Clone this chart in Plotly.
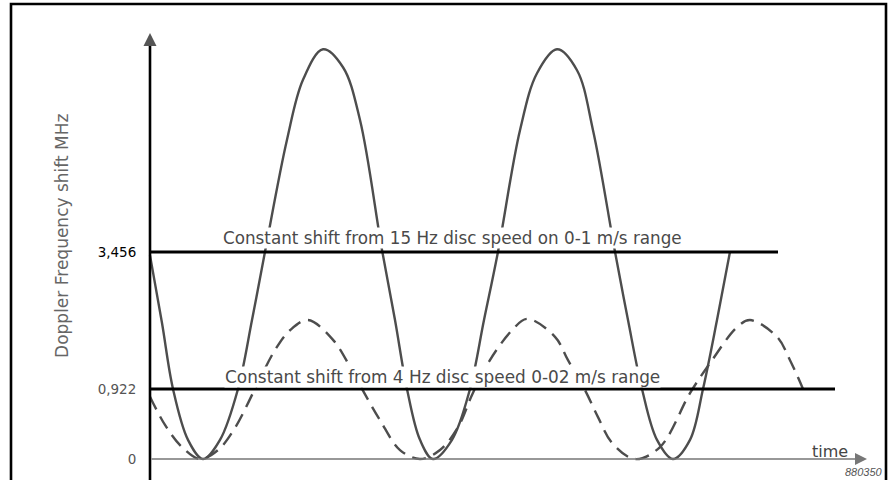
import plotly.graph_objects as go

# ---- data (schematic units) ----
solid_t = [0, 1.2, 2.3, 3.8, 5.3, 7.0, 8.8, 10.2, 11.5, 13.7, 15.3, 17.3, 19.3, 21.0, 23.2,
           24.5, 25.7, 27.0, 28.3, 30.2, 32.0, 33.4, 34.8, 37.0, 38.7, 40.7, 42.7, 44.3, 46.5,
           47.8, 49.2, 50.7, 52.3, 54.0, 55.3, 56.7, 58.0]
solid_f = [3.40, 2.27, 1.17, 0.32, 0, 0.32, 1.17, 2.32, 3.46, 5.33, 6.33, 6.84, 6.54, 5.66, 3.49,
           2.32, 1.17, 0.32, 0, 0.32, 1.17, 2.32, 3.46, 5.49, 6.44, 6.84, 6.49, 5.49, 3.46,
           2.32, 1.17, 0.32, 0, 0.32, 1.17, 2.32, 3.46]

dash_t = [0, 1.5, 3.2, 5.0, 6.8, 8.5, 10.5, 12.5, 14.0, 15.8, 18.3, 20.0, 21.2, 23.0, 25.0,
          27.0, 29.0, 30.8, 32.2, 33.8, 36.2, 37.7, 40.5, 41.8, 43.5, 44.8, 46.2, 48.5, 51.0,
          54.0, 56.0, 58.7, 60.0, 62.7, 64.0, 65.3]
dash_f = [1.04, 0.57, 0.20, 0, 0.15, 0.52, 1.17, 1.82, 2.15, 2.32, 1.99, 1.54, 1.17, 0.65, 0.15,
          0, 0.15, 0.53, 1.07, 1.60, 2.15, 2.34, 2.04, 1.65, 1.15, 0.70, 0.27, 0, 0.20,
          1.10, 1.60, 2.20, 2.32, 2.04, 1.65, 1.17]

shift_levels = [3.456, 1.169]          # drawn positions of the constant shift lines
shift_labels = ["3,456", "0,922"]
shift_ends = [62.8, 68.5]
shift_texts = ["Constant shift from 15 Hz disc speed on 0-1 m/s range",
               "Constant shift from 4 Hz disc speed 0-02 m/s range"]
shift_text_x = [7.2, 7.4]
shift_text_y = [3.69, 1.37]
shift_text_size = [16.8, 16.9]

tick_vals = [0, shift_levels[1], shift_levels[0]]
tick_text = ["0", shift_labels[1], '<span style="color:#000">' + shift_labels[0] + '</span>']

FONT = "DejaVu Sans"
GREY = "#555555"

fig = go.Figure()
fig.add_trace(go.Scatter(x=solid_t, y=solid_f, mode="lines",
                         line=dict(color="#4d4d4d", width=2.4, shape="spline", smoothing=1.0),
                         hoverinfo="skip"))
fig.add_trace(go.Scatter(x=dash_t, y=dash_f, mode="lines",
                         line=dict(color="#4d4d4d", width=2.4, shape="spline", smoothing=1.0,
                                   dash="14px,8px"),
                         hoverinfo="skip"))
for lvl, end in zip(shift_levels, shift_ends):
    fig.add_trace(go.Scatter(x=[0, end], y=[lvl, lvl], mode="lines",
                             line=dict(color="#000000", width=3), hoverinfo="skip"))

annotations = []
for txt, tx, ty, sz in zip(shift_texts, shift_text_x, shift_text_y, shift_text_size):
    annotations.append(dict(x=tx, y=ty, xref="x", yref="y", text=txt, showarrow=False,
                            xanchor="left", yanchor="middle", bgcolor="white", borderpad=0,
                            font=dict(family=FONT, size=sz, color="#4a4a4a")))
# y axis arrowhead (grey) on top of black axis line
annotations.append(dict(x=0, y=1, xref="x", yref="paper", ax=0, ay=14, axref="pixel",
                        ayref="pixel", text="", showarrow=True, arrowhead=2, arrowsize=1.0,
                        arrowwidth=2.6, arrowcolor="#555555"))
# x axis with arrow
annotations.append(dict(x=1, y=0, xref="paper", yref="y", ax=-717, ay=0, axref="pixel",
                        ayref="pixel", text="", showarrow=True, arrowhead=2, arrowsize=1.5,
                        arrowwidth=1.6, arrowcolor="#777777"))
# axis titles
annotations.append(dict(x=-0.1316, y=0.546, xref="paper", yref="paper",
                        text="Doppler Frequency shift MHz", textangle=-90, showarrow=False,
                        font=dict(family=FONT, size=17, color="#666666")))
annotations.append(dict(x=0.9488, y=0.12, xref="paper", yref="y", text="time", showarrow=False,
                        xanchor="center", yanchor="middle",
                        font=dict(family=FONT, size=16, color="#444444")))
annotations.append(dict(x=(885 - 145) / 722, y=0, xref="paper", yref="paper",
                        text="<i>880350</i>", showarrow=False, xanchor="right", yanchor="bottom",
                        font=dict(family="Liberation Sans", size=11, color="#555555")))

fig.update_layout(
    width=888, height=480,
    margin=dict(l=145, r=21, t=33, b=0),
    paper_bgcolor="white", plot_bgcolor="white",
    showlegend=False,
    xaxis=dict(range=[-0.5, 71.7], showgrid=False, zeroline=False, showline=False,
               showticklabels=False, ticks=""),
    yaxis=dict(range=[-0.35, 7.112], showgrid=False, zeroline=False, showline=False,
               tickmode="array", tickvals=tick_vals, ticktext=tick_text,
               ticks="outside", ticklen=5, tickcolor="rgba(0,0,0,0)",
               tickfont=dict(family=FONT, size=13.5, color=GREY)),
    annotations=annotations,
    shapes=[dict(type="rect", xref="paper", yref="paper",
                 x0=(11 - 145) / 722, x1=(886 - 145) / 722,
                 y0=(480 - 495) / 447, y1=(480 - 4) / 447,
                 line=dict(color="#000000", width=2.6), fillcolor="rgba(0,0,0,0)"),
            dict(type="line", xref="x", yref="paper", x0=0, x1=0,
                 y0=(480 - 490) / 447, y1=(480 - 46) / 447,
                 line=dict(color="#000000", width=2.6))],
)

fig.write_html("out.html", config={"displayModeBar": False},
               post_script="document.body.style.margin='0';document.body.style.overflow='hidden';")
